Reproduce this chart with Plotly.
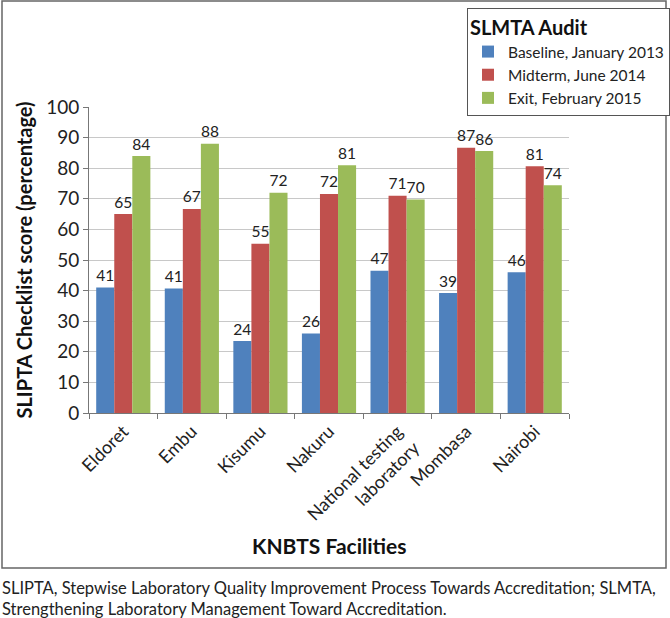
import plotly.graph_objects as go

categories = ["Eldoret", "Embu", "Kisumu", "Nakuru", "National testing<br>laboratory", "Mombasa", "Nairobi"]
baseline = [41.0, 40.7, 23.5, 26.0, 46.5, 39.2, 46.0]
midterm = [65.0, 66.7, 55.3, 71.6, 71.0, 86.7, 80.6]
exit_ = [84.0, 88.0, 72.0, 81.0, 69.8, 85.6, 74.4]
baseline_lbl = ["41", "41", "24", "26", "47", "39", "46"]
midterm_lbl = ["65", "67", "55", "72", "71", "87", "81"]
exit_lbl = ["84", "88", "72", "81", "70", "86", "74"]

FONT = "Lato, 'Open Sans', sans-serif"
series = [
    ("Baseline, January 2013", baseline, baseline_lbl, "#4F81BD"),
    ("Midterm, June 2014", midterm, midterm_lbl, "#C0504D"),
    ("Exit, February 2015", exit_, exit_lbl, "#9BBB59"),
]

fig = go.Figure()
for name, vals, lbls, col in series:
    fig.add_trace(go.Bar(
        x=categories, y=vals, name=name, marker_color=col, marker_line_width=0,
        text=lbls, textposition="outside", cliponaxis=False,
        textfont=dict(family=FONT, size=18, color="#222"),
    ))

L, R, T, B = 89, 569, 107, 413
W = R - L
H = B - T

def px_x(p):
    return (p - L) / W

def px_y(p):
    return (B - p) / H

fig.update_layout(
    width=670, height=618,
    margin=dict(l=L, r=670 - R, t=T, b=618 - B, autoexpand=False),
    paper_bgcolor="white", plot_bgcolor="white",
    barmode="group", bargap=0.21, bargroupgap=0,
    font=dict(family=FONT, color="#222"),
    showlegend=True,
    legend=dict(
        title=dict(text="<b>SLMTA Audit</b>", font=dict(size=20, family=FONT, color="#111")),
        x=px_x(467), y=px_y(8), xanchor="left", yanchor="top",
        bordercolor="#555", borderwidth=1, bgcolor="white",
        font=dict(size=15.5, family=FONT, color="#222"),
        tracegroupgap=2, itemwidth=30,
    ),
    xaxis=dict(
        showline=True, linecolor="#777", linewidth=1,
        ticks="outside", tickcolor="#777", ticklen=5, tickson="boundaries",
        tickangle=-45, tickfont=dict(size=18, family=FONT, color="#222"),
        showgrid=False,
    ),
    yaxis=dict(
        range=[0, 100], dtick=10, showline=True, linecolor="#777", linewidth=1,
        ticks="outside", tickcolor="#777", ticklen=5,
        showgrid=True, gridcolor="#C8C8C8", gridwidth=1,
        tickfont=dict(size=19, family=FONT, color="#222"),
        title=dict(text="<b>SLIPTA Checklist score (percentage)</b>",
                   font=dict(size=20, family=FONT, color="#111"), standoff=8),
    ),
    shapes=[dict(type="rect", xref="paper", yref="paper",
                 x0=px_x(2), x1=px_x(666), y0=px_y(568), y1=px_y(1),
                 line=dict(color="#666", width=1.5), fillcolor="rgba(0,0,0,0)", layer="below")],
    annotations=[
        dict(text="<b>KNBTS Facilities</b>", xref="paper", yref="paper",
             x=0.5, y=px_y(545), xanchor="center", yanchor="middle", showarrow=False,
             font=dict(size=21, family=FONT, color="#111")),
        dict(text="SLIPTA, Stepwise Laboratory Quality Improvement Process Towards Accreditation; SLMTA,<br>"
                  "Strengthening Laboratory Management Toward Accreditation.",
             xref="paper", yref="paper", x=px_x(0), y=px_y(576), xanchor="left", yanchor="top",
             align="left", showarrow=False, font=dict(size=16.5, family=FONT, color="#222")),
    ],
)

fig.write_html("out.html", config={"displayModeBar": False},
               post_script="document.body.style.margin='0';document.body.style.padding='0';")
